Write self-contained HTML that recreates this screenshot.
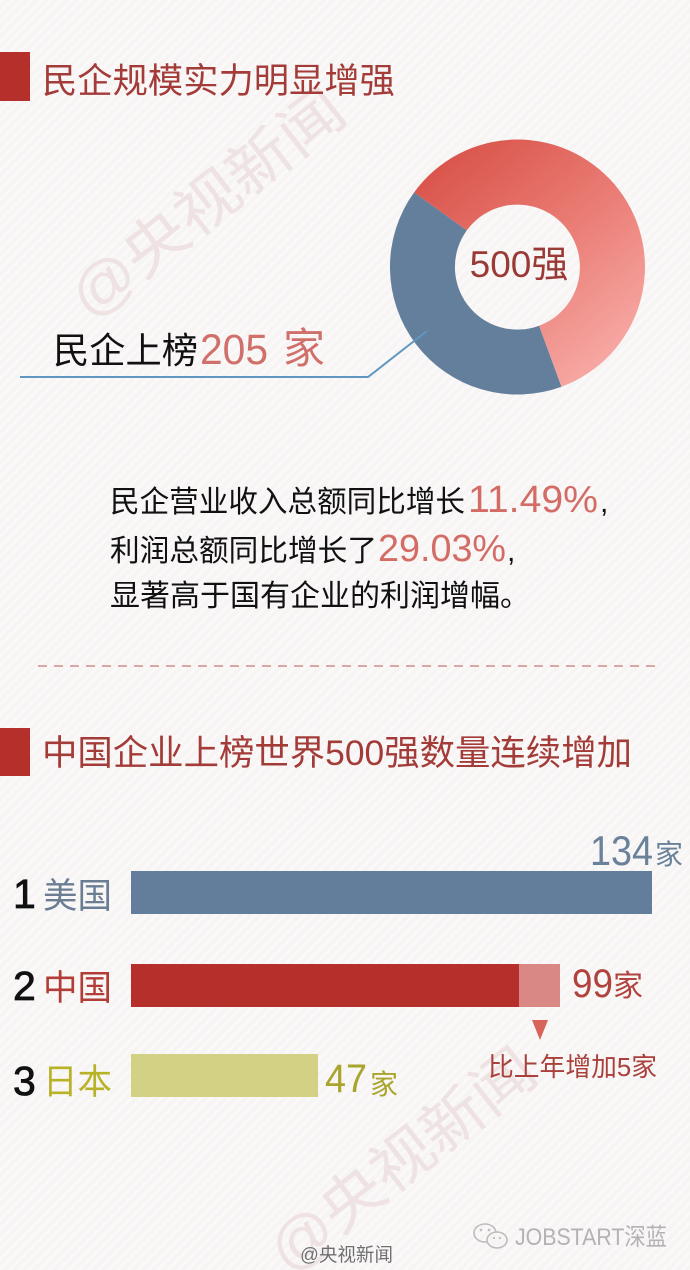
<!DOCTYPE html>
<html>
<head>
<meta charset="utf-8">
<style>
html,body{margin:0;padding:0;background:#f7f4f4;}
body{width:690px;height:1270px;overflow:hidden;}
svg{display:block;}
text{font-family:"Liberation Sans","Noto Sans CJK SC",sans-serif;}
</style>
</head>
<body>
<svg width="690" height="1270" viewBox="0 0 690 1270" xmlns="http://www.w3.org/2000/svg">
  <defs>
    <pattern id="stripes" width="7" height="7" patternUnits="userSpaceOnUse" patternTransform="rotate(45)">
      <rect width="7" height="7" fill="#f7f4f4"/>
      <rect width="3" height="7" fill="#faf8f8"/>
    </pattern>
    <linearGradient id="redg" x1="0.15" y1="0.05" x2="0.85" y2="0.95">
      <stop offset="0" stop-color="#d9544b"/>
      <stop offset="0.5" stop-color="#ea7d75"/>
      <stop offset="1" stop-color="#f8aca8"/>
    </linearGradient>
  </defs>
  <rect width="690" height="1270" fill="url(#stripes)"/>

  <!-- watermarks -->
  <g transform="translate(207,203) rotate(-38)">
    <text x="0" y="21" font-size="60" text-anchor="middle" fill="#eee2e2" textLength="330" lengthAdjust="spacingAndGlyphs">@央视新闻</text>
  </g>
  <g transform="translate(402,1160) rotate(-38)">
    <text x="0" y="21" font-size="60" text-anchor="middle" fill="#eee2e2" textLength="320" lengthAdjust="spacingAndGlyphs">@央视新闻</text>
  </g>

  <!-- Title 1 -->
  <rect x="0" y="52" width="30" height="49" fill="#b5302b"/>
  <text x="42" y="93" font-size="35" fill="#a33c38" textLength="353" lengthAdjust="spacingAndGlyphs">民企规模实力明显增强</text>

  <!-- Donut -->
  <path d="M561.5,386.7 A127.5,127.5 0 0 1 414.1,192.4 L466.8,230.4 A62.5,62.5 0 0 0 539.1,325.7 Z" fill="#637f9c"/>
  <path d="M414.1,192.4 A127.5,127.5 0 1 1 561.5,386.7 L539.1,325.7 A62.5,62.5 0 1 0 466.8,230.4 Z" fill="url(#redg)"/>
  <text x="519" y="277" font-size="37" fill="#9a3a36" text-anchor="middle">500强</text>

  <!-- leader -->
  <polyline points="20,377 368,377 427,331" fill="none" stroke="#5e97c0" stroke-width="2"/>
  <text x="53" y="363" font-size="36" fill="#111" textLength="145" lengthAdjust="spacingAndGlyphs">民企上榜</text>
  <text x="200" y="364" font-size="43" fill="#d0706a" textLength="68" lengthAdjust="spacingAndGlyphs">205</text>
  <text x="283" y="363" font-size="42" fill="#d0706a">家</text>

  <!-- paragraph -->
  <text x="110" y="512" font-size="30" fill="#111" textLength="355" lengthAdjust="spacingAndGlyphs">民企营业收入总额同比增长</text>
  <text x="468" y="512" font-size="38" fill="#d36c65" textLength="130" lengthAdjust="spacingAndGlyphs">11.49%</text>
  <text x="600" y="512" font-size="30" fill="#111">,</text>
  <text x="110" y="561" font-size="30" fill="#111" textLength="267" lengthAdjust="spacingAndGlyphs">利润总额同比增长了</text>
  <text x="378" y="561" font-size="38" fill="#d36c65" textLength="128" lengthAdjust="spacingAndGlyphs">29.03%</text>
  <text x="507" y="561" font-size="30" fill="#111">,</text>
  <text x="110" y="606" font-size="30" fill="#111" textLength="420" lengthAdjust="spacingAndGlyphs">显著高于国有企业的利润增幅。</text>

  <!-- dashed line -->
  <line x1="38" y1="666" x2="660" y2="666" stroke="#d7a9a6" stroke-width="2" stroke-dasharray="9,7"/>

  <!-- Title 2 -->
  <rect x="0" y="728" width="30" height="48" fill="#b5302b"/>
  <text x="42" y="765" font-size="35" fill="#a33c38" textLength="590" lengthAdjust="spacingAndGlyphs">中国企业上榜世界500强数量连续增加</text>

  <!-- Bars -->
  <rect x="131" y="871" width="521" height="43" fill="#627e9a"/>
  <rect x="131" y="964" width="388" height="43" fill="#b5302b"/>
  <rect x="519" y="964" width="41" height="43" fill="#d98886"/>
  <rect x="131" y="1054" width="187" height="43" fill="#d3d183"/>

  <!-- row labels -->
  <text x="13" y="908" font-size="41" fill="#111" stroke="#111" stroke-width="0.8">1</text>
  <text x="43" y="908" font-size="35" fill="#6a7d93" textLength="69" lengthAdjust="spacingAndGlyphs">美国</text>
  <text x="13" y="1000" font-size="41" fill="#111" stroke="#111" stroke-width="0.8">2</text>
  <text x="43" y="1000" font-size="35" fill="#b23c36" textLength="69" lengthAdjust="spacingAndGlyphs">中国</text>
  <text x="13" y="1095" font-size="41" fill="#111" stroke="#111" stroke-width="0.8">3</text>
  <text x="43" y="1094" font-size="35" fill="#b7b226" textLength="69" lengthAdjust="spacingAndGlyphs">日本</text>

  <!-- values -->
  <text x="590" y="865" font-size="42" fill="#6a819a" textLength="63" lengthAdjust="spacingAndGlyphs">134</text>
  <text x="655" y="864" font-size="28" fill="#6a819a">家</text>
  <text x="572" y="997" font-size="40" fill="#b0433d" textLength="41" lengthAdjust="spacingAndGlyphs">99</text>
  <text x="613" y="996" font-size="30" fill="#b0433d">家</text>
  <text x="325" y="1092" font-size="40" fill="#a9a52c" textLength="42" lengthAdjust="spacingAndGlyphs">47</text>
  <text x="370" y="1094" font-size="28" fill="#a9a52c">家</text>

  <!-- arrow + note -->
  <polygon points="532,1020 548,1020 540,1040" fill="#d9625b"/>
  <text x="488" y="1076" font-size="26" fill="#a9403b" textLength="169" lengthAdjust="spacingAndGlyphs">比上年增加5家</text>

  <!-- footer -->
  <text x="300" y="1261" font-size="19" fill="#6e6e6e" stroke="#ffffff" stroke-width="0.6" paint-order="stroke" textLength="93" lengthAdjust="spacingAndGlyphs">@央视新闻</text>
  <g fill="none" stroke="#bdbdbd" stroke-width="1.6">
    <ellipse cx="485" cy="1233" rx="11" ry="9"/>
    <ellipse cx="497" cy="1240" rx="10" ry="8" fill="#f7f4f4"/>
  </g>
  <circle cx="481" cy="1230" r="1.3" fill="#bdbdbd"/>
  <circle cx="489" cy="1230" r="1.3" fill="#bdbdbd"/>
  <circle cx="494" cy="1238" r="1.1" fill="#bdbdbd"/>
  <circle cx="500" cy="1238" r="1.1" fill="#bdbdbd"/>
  <text x="515" y="1245" font-size="24" fill="#b3b3b3" textLength="152" lengthAdjust="spacingAndGlyphs">JOBSTART深蓝</text>
</svg>
</body>
</html>
